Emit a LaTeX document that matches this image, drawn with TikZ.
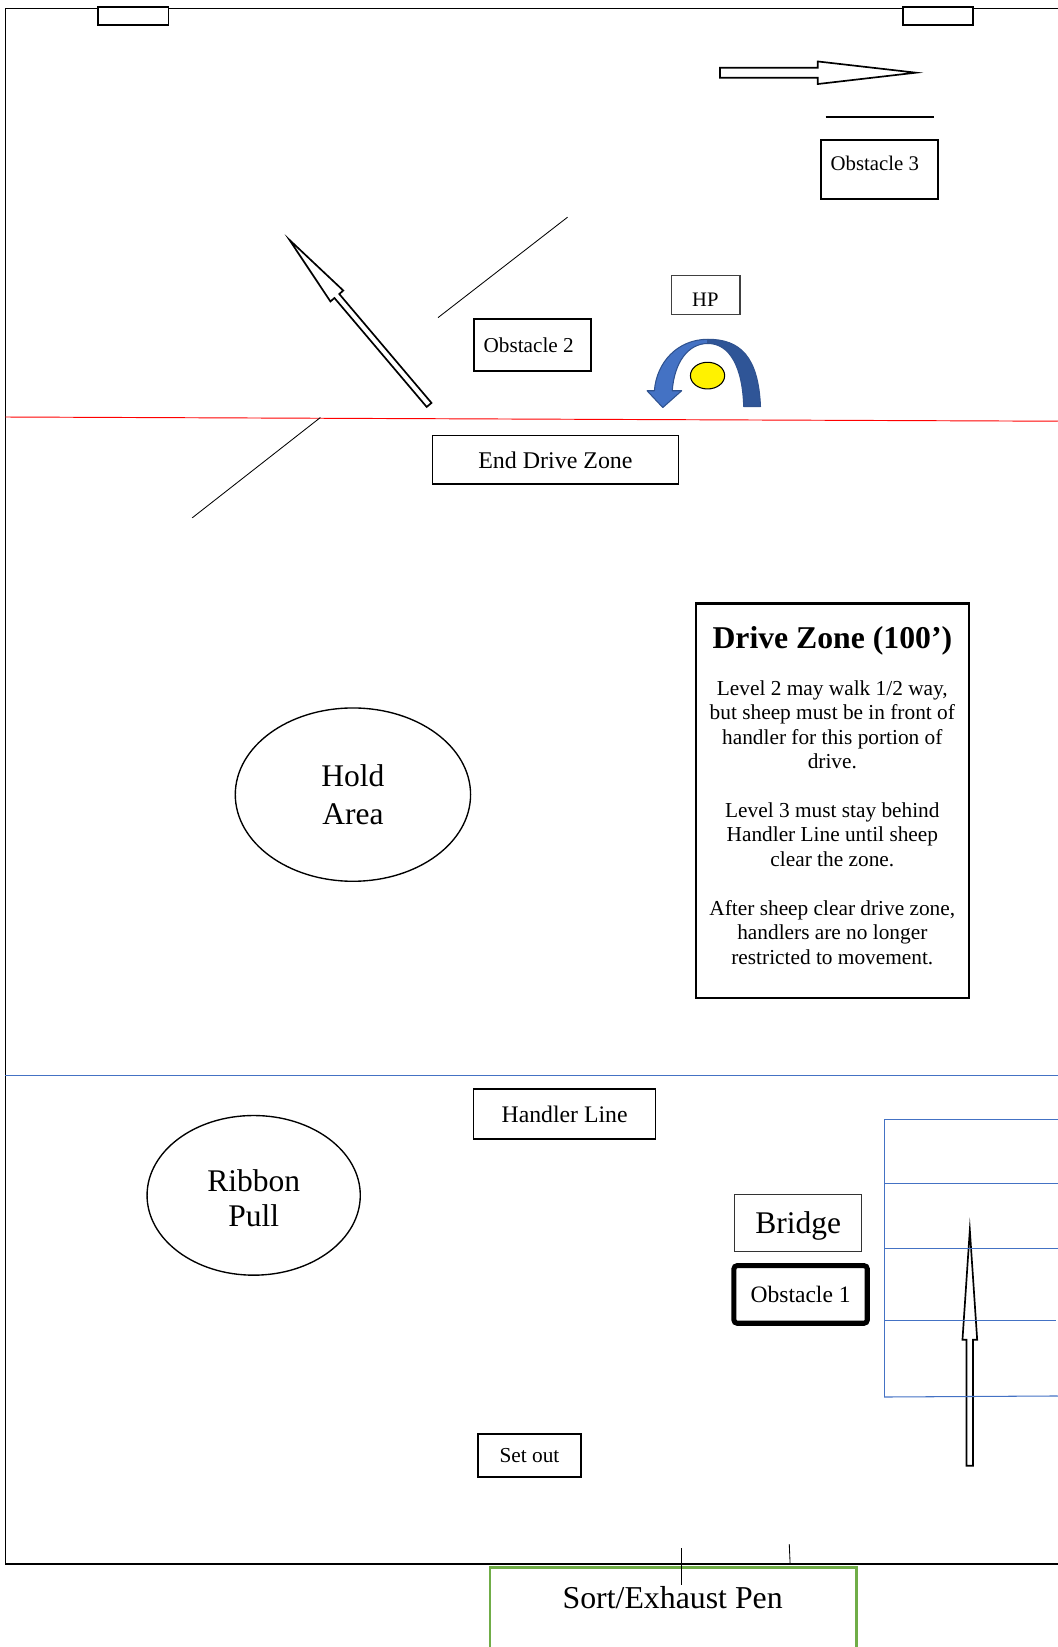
\documentclass[tikz,border=0pt]{standalone}
\usepackage{fontspec}
\setmainfont{Liberation Serif}
\usetikzlibrary{positioning}
\usetikzlibrary{shapes.geometric}

\definecolor{laneblue}{HTML}{4472C4}
\definecolor{darkblue}{HTML}{2F528F}
\definecolor{deepblue}{HTML}{2F5597}
\definecolor{pengreen}{HTML}{70AD47}
\newcommand{\fsz}[2]{\fontsize{#1}{#2}\selectfont}

\begin{document}
\begin{tikzpicture}
	[x=1pt, y=-1pt,
	 box/.style = {draw, inner sep=0pt, line width=1.3pt},
	 pen/.style = {draw, ellipse, inner sep=0pt, line width=1.3pt, align=center},
	 arrowbody/.style = {draw, fill=white, line width=1.6pt, line join=miter, miter limit=25},
	 thinline/.style = {line width=0.8pt},
	 lane/.style = {laneblue, line width=1pt}]
	\useasboundingbox (0,0) rectangle (1007,1568);

	% field outline and gates
	\draw[line width=1.3pt] (1007,8) -- (5,8) -- (5,1489) -- (1007,1489);
	\draw[line width=1.6pt, fill=white] (93,6.5) rectangle (160.5,23.5);
	\draw[line width=1.6pt, fill=white] (859.5,6.5) rectangle (926,23.5);

	% drive lines
	\draw[red, line width=0.9pt] (5,397) -- (1007,401);
	\draw[lane] (5,1024.2) -- (1007,1024.2);

	% arrows
	\draw[arrowbody] (685.5,64.5) -- (778.5,64.5) -- (778.5,58.5) -- (872,69.2)
	    -- (778.5,80) -- (778.5,74) -- (685.5,74) -- cycle;
	\draw[arrowbody] (410.8,383.6) -- (323.0,279.9) -- (326.8,276.6) -- (275.5,228.3)
	    -- (314.6,287.0) -- (318.4,283.7) -- (406.2,387.4) -- cycle;
	\draw[arrowbody] (920.1,1395.4) -- (920.1,1275.5) -- (916.3,1275.5) -- (923.3,1171)
	    -- (930.3,1275.5) -- (926.4,1275.5) -- (926.4,1395.4) -- cycle;

	% obstacle 3 and 2 panels
	\draw[line width=2pt] (786,111) -- (889,111);
	\draw[thinline] (417,302.4) -- (540.3,206.8);
	\draw[thinline] (183,493) -- (305,397.5);

	% turn round the handler post
	\draw[darkblue, fill=laneblue, line width=1pt, line join=round]
	    (674,323) .. controls (645,323) and (625,345) .. (623,372) -- (616,372) -- (631,388)
	    -- (649,372) -- (640,372) .. controls (642,345) and (655,327) .. (674,327) -- cycle;
	\draw[darkblue, fill=deepblue, line width=1pt, line join=round]
	    (674,323) .. controls (705,323) and (722,340) .. (724,387) -- (708,387)
	    .. controls (707,350) and (695,327) .. (674,327) -- cycle;
	\draw[fill=yellow, line width=1pt] (673.6,357.6) ellipse [x radius=16.3pt, y radius=12.7pt];

	\node[box, line width=1.9pt, minimum width=111.5pt, minimum height=56pt] (obs3) at (837.2,161.3) {};
	\node[font=\fsz{19.8}{22}] (obs3txt) at (832.8,155.5) {Obstacle 3};
	\node[box, line width=1.2pt, draw=black!75, minimum width=65pt, minimum height=37pt] (hp) at (672,281) {};
	\node[font=\fsz{19.6}{22}] (hptxt) at (671.5,285.6) {HP};
	\node[box, line width=1.9pt, minimum width=111.5pt, minimum height=49pt, font=\fsz{20.2}{24}] (obs2) at (507.3,328.4) {Obstacle 2\hspace*{8pt}\mbox{}};
	\node[box, minimum width=234.3pt, minimum height=46.3pt, font=\fsz{22.8}{26}] (enddrive) at (528.8,437.8) {End Drive Zone};

	% drive zone notes
	\node[box, line width=2.2pt, minimum width=259.6pt, minimum height=375.5pt] (drivezone) at (792.4,762.2) {};
	\node[font=\bfseries\fsz{30.2}{34}] (drivetitle) at (792.4,610.5) {Drive Zone (100’)};
	\node[font=\fsz{20.3}{23.3}, align=center] (drivenotes) at (792.4,783) {Level 2 may walk 1/2 way,\\
	    but sheep must be in front of\\handler for this portion of\\drive.\\[23.3pt]
	    Level 3 must stay behind\\Handler Line until sheep\\clear the zone.\\[23.3pt]
	    After sheep clear drive zone,\\handlers are no longer\\restricted to movement.};

	\node[pen, minimum width=224pt, minimum height=165pt, font=\fsz{30}{36}] (hold) at (336,756.5) {Hold\\Area};
	\node[pen, minimum width=203pt, minimum height=152pt, font=\fsz{30}{34}, text height=60.5pt] (ribbon) at (241.5,1138) {Ribbon\\Pull};
	\node[box, line width=1.5pt, minimum width=173.5pt, minimum height=47.5pt, font=\fsz{22.6}{26}] (handler) at (537.5,1060.5) {Handler Line};

	% bridge
	\node[box, line width=1.2pt, draw=black!80, minimum width=121.2pt, minimum height=54.3pt, font=\fsz{30}{34}, text depth=0pt] (bridge) at (759.9,1164.3) {Bridge};
	\node[box, line width=4.8pt, rounded corners=3pt, minimum width=126.9pt, minimum height=54.8pt, font=\fsz{22.4}{26}]
	    (obs1) [below=10.5pt of bridge, xshift=2.3pt] {Obstacle 1};
	\draw[lane] (841.7,1065.5) -- (841.7,1330);
	\draw[lane] (841.7,1065.5) -- (1007,1065.5);
	\draw[lane] (841.7,1126.4) -- (1007,1126.4);
	\draw[lane] (841.7,1188.8) -- (1007,1188.8);
	\draw[lane] (841.7,1257.4) -- (1005,1257.4);
	\draw[lane] (841.7,1330) -- (1007,1329);

	\node[box, line width=2pt, minimum width=98.6pt, minimum height=40.8pt, font=\fsz{20.3}{24}] (setout) at (504.1,1385.7) {Set out};

	% exhaust pen
	\node[draw=pengreen, line width=2.4pt, inner sep=0pt, minimum width=348.5pt, minimum height=120pt, anchor=north west] (pen) at (465.5,1491.2) {};
	\node[font=\fsz{30.3}{34}] (pentxt) at (640.4,1521.4) {Sort/Exhaust Pen};
	\draw[thinline] (648.4,1473.8) -- (648.4,1508.7);
	\draw[thinline] (751.4,1470) -- (752.2,1488.5);

\end{tikzpicture}
\end{document}
